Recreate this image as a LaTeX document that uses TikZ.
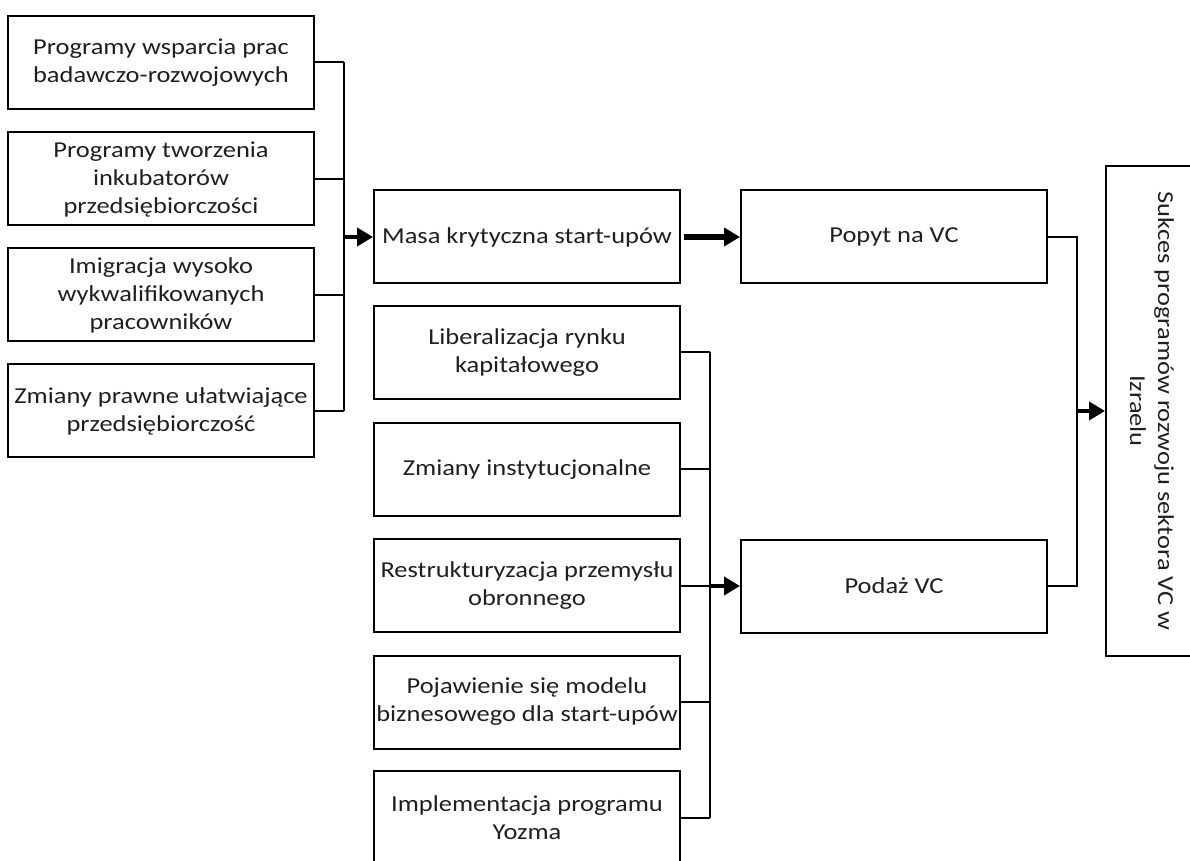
\documentclass[tikz,border=0pt]{standalone}
\usepackage{fontspec}
\setmainfont{Carlito}[FakeStretch=1.16]
\usetikzlibrary{arrows.meta}
\definecolor{textgray}{gray}{0.12}
\begin{document}
\begin{tikzpicture}[x=0.5pt,y=-0.5pt,
  box/.style={draw=black, line width=1pt, rectangle, minimum width=153pt,
    minimum height=46.5pt, inner sep=0pt, align=center,
    font=\fontsize{11.4pt}{14pt}\selectfont, text=textgray},
  link/.style={line width=1pt},
  flow/.style={line width=2.2pt, -{Triangle[length=8pt,width=9pt]}},
]
\useasboundingbox (0,0) rectangle (1190,861);
\clip (0,0) rectangle (1190,861);

% left column: factors behind the start-up base
\node[box] (rd)   at (161,62.5) {Programy wsparcia prac\\badawczo-rozwojowych};
\node[box] (inc)  at (161,179)  {Programy tworzenia\\inkubatorów\\przedsiębiorczości};
\node[box] (imm)  at (161,295)  {Imigracja wysoko\\wykwalifikowanych\\pracowników};
\node[box] (law)  at (161,411)  {Zmiany prawne ułatwiające\\przedsiębiorczość};

% middle column
\node[box] (mass) at (527,237)   {Masa krytyczna start-upów};
\node[box] (lib)  at (527,352.5) {Liberalizacja rynku\\kapitałowego};
\node[box] (inst) at (527,469.5) {Zmiany instytucjonalne};
\node[box] (def)  at (527,585.5) {Restrukturyzacja przemysłu\\obronnego};
\node[box] (biz)  at (527,702)   {Pojawienie się modelu\\biznesowego dla start-upów};
\node[box] (yoz)  at (527,817.5) {Implementacja programu\\Yozma};

% demand and supply
\node[box] (dem)  at (894,237) {Popyt na VC};
\node[box] (sup)  at (894,586) {Podaż VC};

% outcome (rotated)
\node[box, rotate=-90, minimum width=245pt, minimum height=46pt] (out) at (1152,411)
  {Sukces programów rozwoju sektora VC w\\Izraelu};

% bus coordinates
\coordinate (lbus) at (344,0);
\coordinate (mbus) at (710,0);
\coordinate (rbus) at (1077,0);

% left bus
\foreach \n in {rd,inc,imm,law}
  \draw[link] (\n.east) -- (\n.east -| lbus);
\draw[link] (rd.east -| lbus) -- (law.east -| lbus);
\draw[flow] (mass.west -| lbus) -- (mass.west);

% mass -> demand
\draw[flow, line width=2.6pt] ([xshift=1.5pt]mass.east) -- (dem.west);

% middle bus
\foreach \n in {lib,inst,def,biz,yoz}
  \draw[link] (\n.east) -- (\n.east -| mbus);
\draw[link] (lib.east -| mbus) -- (yoz.east -| mbus);
\draw[flow] (sup.west -| mbus) -- (sup.west);

% right bus
\draw[link] (dem.east) -- (dem.east -| rbus) -- (sup.east -| rbus) -- (sup.east);
\draw[flow] (out.south -| rbus) -- (out.south);
\end{tikzpicture}
\end{document}
